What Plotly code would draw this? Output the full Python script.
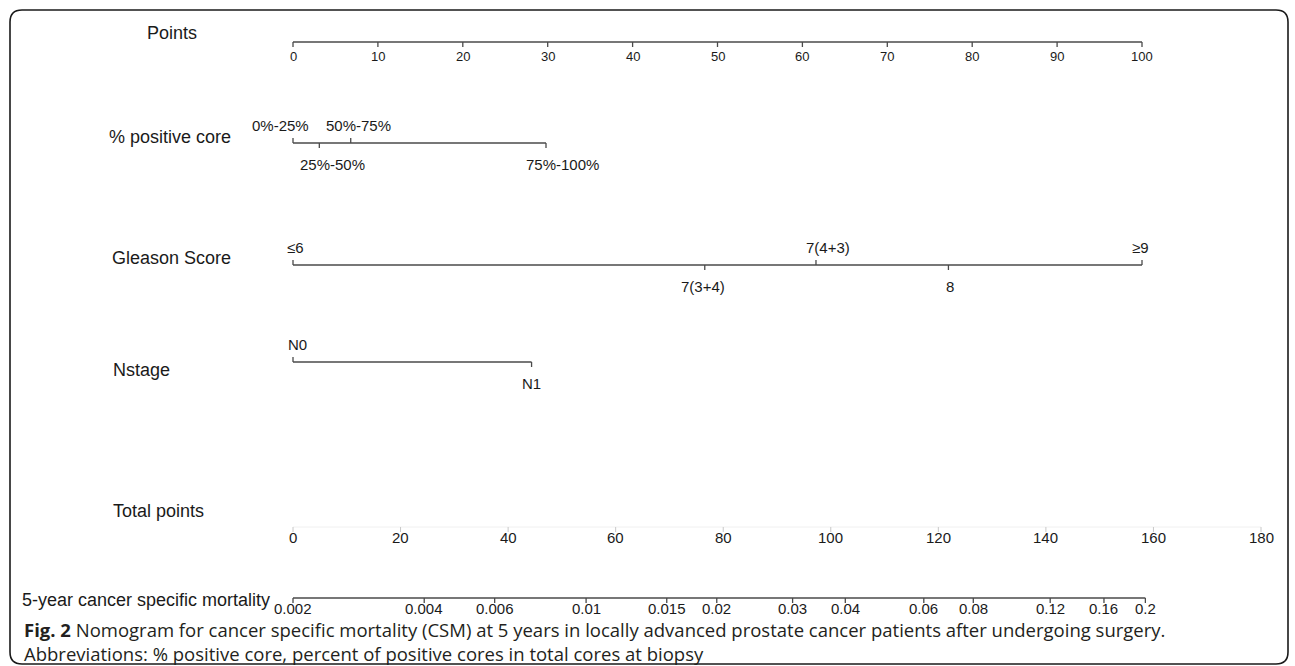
import plotly.graph_objects as go

# ---------------- data ----------------
points_ticks = [0, 10, 20, 30, 40, 50, 60, 70, 80, 90, 100]

core_labels = ["0%-25%", "25%-50%", "50%-75%", "75%-100%"]
core_points = [0, 3.1, 6.8, 29.8]

gleason_labels = ["≤6", "7(3+4)", "7(4+3)", "8", "≥9"]
gleason_points = [0, 48.5, 61.6, 77.2, 100]

nstage_labels = ["N0", "N1"]
nstage_points = [0, 28.1]

total_ticks = [0, 20, 40, 60, 80, 100, 120, 140, 160, 180]

csm_labels = ["0.002", "0.004", "0.006", "0.01", "0.015", "0.02", "0.03",
              "0.04", "0.06", "0.08", "0.12", "0.16", "0.2"]
csm_total_points = [0, 24.4, 37.5, 54.5, 69.5, 78.8, 92.9,
                    102.7, 117.3, 126.5, 140.8, 150.8, 158.5]

row_titles = ["Points", "% positive core", "Gleason Score", "Nstage",
              "Total points", "5-year cancer specific mortality"]

caption = ("<b>Fig. 2</b> Nomogram for cancer specific mortality (CSM) at 5 years "
           "in locally advanced prostate cancer patients after undergoing surgery.<br>"
           "Abbreviations: % positive core, percent of positive cores in total cores at biopsy")

# ---------------- layout geometry ----------------
W, H = 1295, 666
X0_PX, X100_PX = 293, 1142          # pixel position of 0 and 100 points
ppx = (X100_PX - X0_PX) / 100.0
xr = [-X0_PX / ppx, (W - X0_PX) / ppx]
TOTAL_MAX_PX = 1261                 # pixel position of 180 total points
K = (TOTAL_MAX_PX - X0_PX) / ppx / 180.0
xr2 = [xr[0] / K, xr[1] / K]

LINE = "#4a4a4a"
TXT = "#1a1a1a"
FONT = "Liberation Sans, Arial, sans-serif"

fig = go.Figure()


def add_segments(xs_pairs, ys_pairs, xaxis, color=LINE, width=1.3):
    xs, ys = [], []
    for (xa, xb), (ya, yb) in zip(xs_pairs, ys_pairs):
        xs += [xa, xb, None]
        ys += [ya, yb, None]
    fig.add_trace(go.Scatter(x=xs, y=ys, xaxis=xaxis, yaxis="y", mode="lines",
                             line=dict(color=color, width=width),
                             hoverinfo="skip", showlegend=False))


def add_label(x, y, text, xref="x", size=13, xshift=0, color=TXT, font=FONT):
    fig.add_annotation(x=x, y=y, xref=xref, yref="y", text=text, showarrow=False,
                       xanchor="center", yanchor="middle", xshift=xshift,
                       font=dict(family=font, size=size, color=color))


TL = 5  # tick length

# Points axis
y = 42
add_segments([(points_ticks[0], points_ticks[-1])], [(y, y)], "x")
add_segments([(v, v) for v in points_ticks], [(y, y + TL)] * len(points_ticks), "x")
for v in points_ticks:
    add_label(v, 56, str(v), size=13)

# categorical rows
def cat_row(labels, values, y, dirs, shifts, size=15):
    add_segments([(min(values), max(values))], [(y, y)], "x")
    add_segments([(v, v) for v in values],
                 [(y, y - TL) if d == "up" else (y, y + TL) for d in dirs], "x")
    for lab, v, d, s in zip(labels, values, dirs, shifts):
        add_label(v, y - 18 if d == "up" else y + 21, lab, size=size, xshift=s)


cat_row(core_labels, core_points, 143, ["up", "down", "up", "down"], [-13, 13, 8, 16])
cat_row(gleason_labels, gleason_points, 265, ["up", "down", "up", "down", "up"],
        [2, -2, 12, 2, -2])
cat_row(nstage_labels, nstage_points, 362, ["up", "down"], [4, 0])

# Total points axis (faint in the reference)
y = 527
add_segments([(total_ticks[0], total_ticks[-1])], [(y, y)], "x2", color="#f0f0f0", width=1)
add_segments([(v, v) for v in total_ticks], [(y, y + TL)] * len(total_ticks), "x2",
             color="#c8c8c8", width=1)
for v in total_ticks:
    add_label(v, 537, str(v), xref="x2", size=15)

# Mortality axis
y = 598
add_segments([(csm_total_points[0], csm_total_points[-1])], [(y, y)], "x2")
add_segments([(v, v) for v in csm_total_points], [(y, y + TL)] * len(csm_total_points), "x2")
for lab, v in zip(csm_labels, csm_total_points):
    add_label(v, 608, lab, xref="x2", size=15)

# Row titles (pixel x centres / y)
title_pos = [(172, 33, "center"), (170, 137, "center"), (171, 258, "center"),
             (141, 370, "center"), (158, 511, "center"), (20, 600, "left")]
for t, (px, py, anchor) in zip(row_titles, title_pos):
    fig.add_annotation(x=px, y=py, xref="x3", yref="y", text=t, showarrow=False,
                       xanchor=anchor, yanchor="middle",
                       font=dict(family=FONT, size=18, color=TXT))

# Caption (one two-line text block)
fig.add_annotation(x=22, y=641, xref="x3", yref="y", text=caption, showarrow=False,
                   xanchor="left", yanchor="middle", align="left",
                   font=dict(family="Open Sans, Noto Sans, sans-serif", size=18.5,
                             color="#231f20"))

# invisible anchor trace for the pixel axis
fig.add_trace(go.Scatter(x=[0, W], y=[0, H], xaxis="x3", yaxis="y", mode="markers",
                         marker=dict(opacity=0), hoverinfo="skip", showlegend=False))

# rounded border
L, R, T, B, r = 10, 1288, 10, 664, 12
path = (f"M {L+r},{T} L {R-r},{T} Q {R},{T} {R},{T+r} L {R},{B-r} Q {R},{B} {R-r},{B} "
        f"L {L+r},{B} Q {L},{B} {L},{B-r} L {L},{T+r} Q {L},{T} {L+r},{T} Z")
fig.add_shape(type="path", path=path, xref="x3", yref="y",
              line=dict(color="#1a1a1a", width=1.6))

hidden = dict(visible=False, showgrid=False, zeroline=False, fixedrange=True)
fig.update_layout(
    width=W, height=H, margin=dict(l=0, r=0, t=0, b=0),
    paper_bgcolor="white", plot_bgcolor="white", showlegend=False,
    xaxis=dict(range=xr, domain=[0, 1], **hidden),
    xaxis2=dict(range=xr2, overlaying="x", **hidden),
    xaxis3=dict(range=[0, W], overlaying="x", **hidden),
    yaxis=dict(range=[H, 0], domain=[0, 1], **hidden),
)

fig.write_html("out.html", config={"displayModeBar": False},
               post_script="document.body.style.margin='0';document.body.style.overflow='hidden';")
